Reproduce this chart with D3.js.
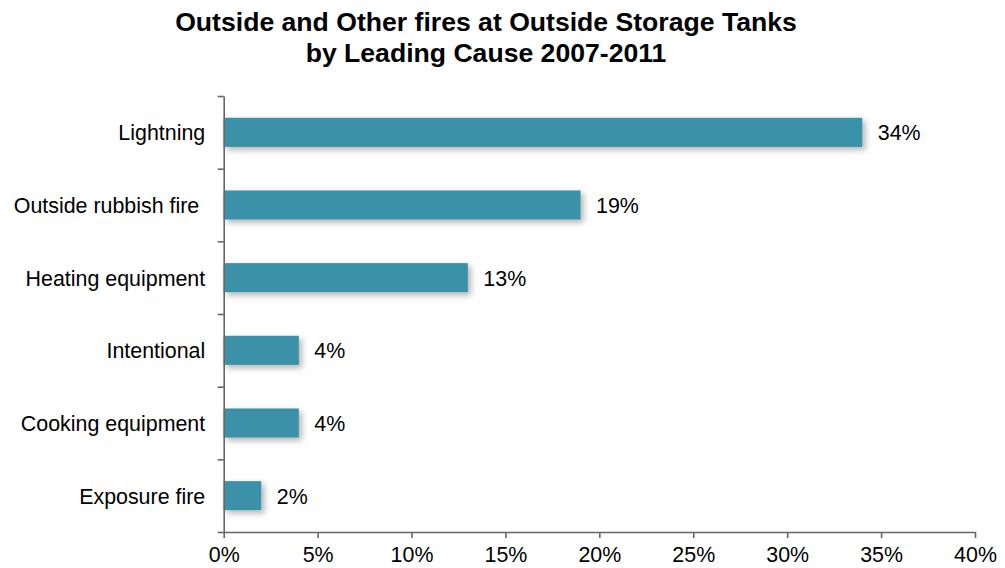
<!DOCTYPE html>
<html>
<head>
<meta charset="utf-8">
<script src="https://cdn.jsdelivr.net/npm/d3@7"></script>
<style>
  html, body { margin: 0; padding: 0; background: #fff; }
  svg { display: block; font-family: "Liberation Sans", Arial, sans-serif; }
</style>
</head>
<body>
<svg id="chart" width="1005" height="568"></svg>
<script>
const titleLines = ["Outside and Other fires at Outside Storage Tanks", "by Leading Cause 2007-2011"];
const categories = ["Lightning", "Outside rubbish fire ", "Heating equipment", "Intentional", "Cooking equipment", "Exposure fire"];
const values = [34, 19, 13, 4, 4, 2];
const xTicks = [0, 5, 10, 15, 20, 25, 30, 35, 40];

(function () {
const svg = d3.select("#chart");
const mLeft = 223.7, mRight = 975, mTop = 96, mBottom = 532;
const fs = 21.4;

const defs = svg.append("defs");
const f = defs.append("filter").attr("id", "shadow")
  .attr("x", "-10%").attr("y", "-60%").attr("width", "130%").attr("height", "240%");
f.append("feDropShadow").attr("dx", 3).attr("dy", 3).attr("stdDeviation", 3)
  .attr("flood-color", "#000").attr("flood-opacity", 0.3);

// Title
svg.append("text")
  .attr("x", 486).attr("text-anchor", "middle")
  .attr("font-weight", "bold").attr("font-size", 26.6).attr("fill", "#000")
  .selectAll("tspan").data(titleLines).join("tspan")
  .attr("x", 486).attr("y", (d, i) => 31 + i * 31).text(d => d);

const x = d3.scaleLinear().domain([0, 40]).range([mLeft, mRight]);
const y = d3.scaleBand().domain(categories).range([mTop, mBottom]).padding(0);
const barH = y.step() * 0.4;

// Bars
svg.append("g").selectAll("rect").data(categories).join("rect")
  .attr("x", x(0))
  .attr("y", d => y(d) + (y.step() - barH) / 2)
  .attr("width", (d, i) => x(values[i]) - x(0))
  .attr("height", barH)
  .attr("fill", "#3B91A7")
  .attr("filter", "url(#shadow)");

// Value labels
svg.append("g").selectAll("text").data(categories).join("text")
  .attr("x", (d, i) => x(values[i]) + 15.5)
  .attr("y", d => y(d) + y.step() / 2)
  .attr("dy", "0.37em")
  .attr("font-size", fs).attr("fill", "#000")
  .text((d, i) => values[i] + "%");

// X axis
const xAxis = svg.append("g").attr("transform", `translate(0,${mBottom})`)
  .call(d3.axisBottom(x).tickValues(xTicks).tickFormat(d => d + "%").tickSize(6).tickSizeOuter(0).tickPadding(9));
xAxis.selectAll("text").attr("font-size", fs).attr("fill", "#000").attr("font-family", "Liberation Sans, Arial, sans-serif");

// Y axis: boundary ticks
const yb = d3.scaleLinear().domain([0, categories.length]).range([mTop, mBottom]);
svg.append("g").attr("transform", `translate(${mLeft},0)`)
  .call(d3.axisLeft(yb).tickValues(d3.range(categories.length + 1)).tickFormat("").tickSize(6).tickSizeOuter(0));

// Y axis category labels
const yLab = svg.append("g").attr("transform", `translate(${mLeft},0)`)
  .call(d3.axisLeft(y).tickSize(0).tickPadding(18.5));
yLab.select(".domain").remove();
yLab.selectAll("text").attr("font-size", fs).attr("fill", "#000")
  .attr("font-family", "Liberation Sans, Arial, sans-serif")
  .style("white-space", "pre").attr("dy", "0.37em");

svg.selectAll(".domain, .tick line").attr("stroke", "#666").attr("stroke-width", 1.6);
})();
</script>
</body>
</html>
